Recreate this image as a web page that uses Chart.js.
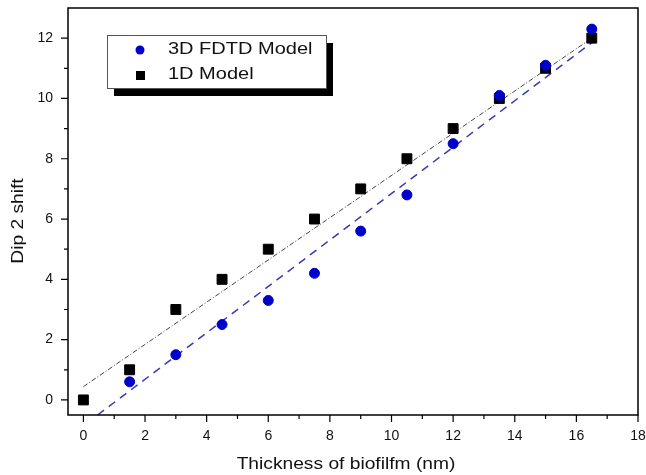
<!DOCTYPE html>
<html>
<head>
<meta charset="utf-8">
<script src="https://cdn.jsdelivr.net/npm/chart.js@4"></script>
<style>
  body { margin: 0; background: #fff; }
  #wrap { width: 646px; height: 475px; }
</style>
</head>
<body>
<div id="wrap"><canvas id="grafico" width="646" height="475"></canvas></div>
<script>
// thickness (nm) and dip 2 shift values
const espessura = [0, 1.5, 3, 4.5, 6, 7.5, 9, 10.5, 12, 13.5, 15, 16.5];
const fdtd3D = [null, 0.6, 1.5, 2.5, 3.3, 4.2, 5.6, 6.8, 8.5, 10.1, 11.1, 12.3];
const modelo1D = [0, 1, 3, 4, 5, 6, 7, 8, 9, 10, 11, 12];

// linear fit end points
const ajusteFdtdX = [0.46, 16.5];
const ajusteFdtdY = [-0.5, 11.85];
const ajuste1DX = [0, 16.5];
const ajuste1DY = [0.44, 12.0];

const rotulos = ["3D FDTD Model", "1D Model"];
const tituloX = "Thickness of biofilfm (nm)";
const tituloY = "Dip 2 shift";

function pares(xs, ys) {
    const out = [];
    for (let i = 0; i < xs.length; i++) {
        if (ys[i] !== null) out.push({ x: xs[i], y: ys[i] });
    }
    return out;
}

const familia = "'Liberation Sans', Arial, sans-serif";

// text is a bit wider in the original figure
function textoLargo(ctx, txt, x, y, esticar) {
    ctx.save();
    ctx.translate(x, y);
    ctx.scale(esticar, 1);
    ctx.fillText(txt, 0, 0);
    ctx.restore();
}

const moldura = {
    id: "moldura",
    afterDraw(chart) {
        const { ctx, chartArea: a, scales } = chart;
        ctx.save();
        ctx.strokeStyle = "#000";
        ctx.lineWidth = 1.5;
        ctx.strokeRect(a.left, a.top, a.right - a.left, a.bottom - a.top);

        // ticks, major ones longer
        ctx.lineWidth = 1.2;
        ctx.beginPath();
        for (let v = 0; v <= 18; v++) {
            const px = scales.x.getPixelForValue(v);
            const len = v % 2 === 0 ? 7 : 4;
            ctx.moveTo(px, a.bottom);
            ctx.lineTo(px, a.bottom + len);
        }
        for (let v = 0; v <= 12; v++) {
            const py = scales.y.getPixelForValue(v);
            const len = v % 2 === 0 ? 7 : 4;
            ctx.moveTo(a.left, py);
            ctx.lineTo(a.left - len, py);
        }
        ctx.stroke();

        // axis titles
        ctx.fillStyle = "#111";
        ctx.font = "16px " + familia;
        ctx.textAlign = "center";
        ctx.textBaseline = "middle";
        textoLargo(ctx, tituloX, 346, 465, 1.2);
        ctx.save();
        ctx.translate(19, 221);
        ctx.rotate(-Math.PI / 2);
        textoLargo(ctx, tituloY, 0, 0, 1.2);
        ctx.restore();

        // legend box with shadow
        const lx = 107, ly = 35, lw = 219, lh = 53;
        ctx.fillStyle = "#000";
        ctx.fillRect(lx + 7, ly + 8, lw, lh);
        ctx.fillStyle = "#fff";
        ctx.fillRect(lx, ly, lw, lh);
        ctx.lineWidth = 1;
        ctx.strokeStyle = "#555";
        ctx.strokeRect(lx + 0.5, ly + 0.5, lw, lh);

        ctx.fillStyle = "#0000cc";
        ctx.beginPath();
        ctx.arc(140, 50, 4.5, 0, Math.PI * 2);
        ctx.fill();
        ctx.fillStyle = "#000";
        ctx.fillRect(136, 71, 9, 9);

        ctx.fillStyle = "#111";
        ctx.textAlign = "left";
        textoLargo(ctx, rotulos[0], 168, 50, 1.25);
        textoLargo(ctx, rotulos[1], 168, 75, 1.25);
        ctx.restore();
    }
};

const fonte = { family: familia, size: 14 };

new Chart(document.getElementById("grafico").getContext("2d"), {
    type: "scatter",
    data: {
        datasets: [
            {
                label: rotulos[0],
                data: pares(espessura, fdtd3D),
                backgroundColor: "#0000cc",
                borderColor: "#0000cc",
                pointStyle: "circle",
                pointRadius: 5,
                pointHoverRadius: 5
            },
            {
                label: rotulos[1],
                data: pares(espessura, modelo1D),
                backgroundColor: "#000",
                borderColor: "#000",
                pointStyle: "rect",
                pointRadius: 7,
                pointHoverRadius: 7
            },
            {
                label: "fit 3D",
                type: "line",
                data: pares(ajusteFdtdX, ajusteFdtdY),
                borderColor: "#3a3ab0",
                borderWidth: 1.5,
                borderDash: [8, 6],
                pointRadius: 0,
                fill: false
            },
            {
                label: "fit 1D",
                type: "line",
                data: pares(ajuste1DX, ajuste1DY),
                borderColor: "#444",
                borderWidth: 1,
                borderDash: [5, 2, 1, 2],
                pointRadius: 0,
                fill: false
            }
        ]
    },
    options: {
        responsive: false,
        animation: false,
        layout: { padding: { top: 7, right: 8, left: 0, bottom: 0 } },
        plugins: { legend: { display: false }, tooltip: { enabled: false } },
        scales: {
            x: {
                type: "linear",
                min: -0.5,
                max: 18,
                afterBuildTicks: s => { s.ticks = []; for (let v = 0; v <= 18; v += 2) s.ticks.push({ value: v }); },
                afterFit: s => { s.height = 60; s.paddingLeft = 0; s.paddingRight = 0; },
                ticks: { color: "#111", font: fonte, padding: 13, maxRotation: 0 },
                grid: { display: false, drawTicks: false },
                border: { display: false }
            },
            y: {
                type: "linear",
                min: -0.5,
                max: 13,
                afterBuildTicks: s => { s.ticks = []; for (let v = 0; v <= 12; v += 2) s.ticks.push({ value: v }); },
                afterFit: s => { s.width = 68; s.paddingTop = 0; s.paddingBottom = 0; },
                ticks: { color: "#111", font: fonte, padding: 15 },
                grid: { display: false, drawTicks: false },
                border: { display: false }
            }
        }
    },
    plugins: [moldura]
});
</script>
</body>
</html>
